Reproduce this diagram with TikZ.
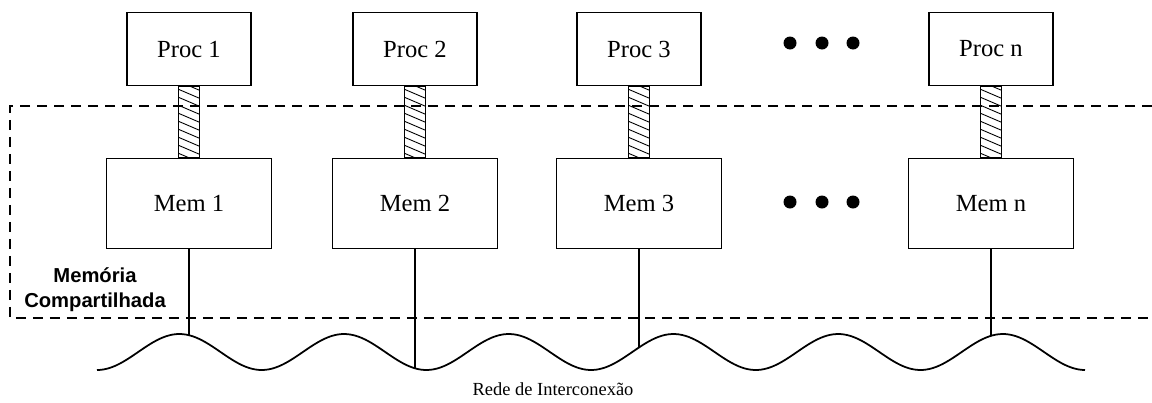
\documentclass[tikz,border=0pt]{standalone}
\usepackage{fontspec}
\setmainfont{Liberation Serif}
\setsansfont{Liberation Sans}
\usetikzlibrary{positioning,calc}

\begin{document}
\begin{tikzpicture}[
		procbox/.style={draw, line width=0.9pt, minimum width=2.48cm, minimum height=1.46cm},
		membox/.style={draw, line width=0.9pt, minimum width=3.3cm, minimum height=1.8cm},
		frame/.style={dash pattern=on 0.2cm off 0.14cm, line width=0.6pt},
		net/.style={line width=1pt},
		link/.style={line width=0.6pt},
		every node/.style={font=\fontsize{14}{16}\selectfont},
		declare function={wave(\t)=1.0-0.36*cos(360*(\t-1.94)/3.294);}
	]
	\useasboundingbox (0,0) rectangle (23.04,8.04);

	% processadores e memorias locais
	\foreach \i/\x in {1/3.78, 2/8.30, 3/12.78, n/19.82} {
		\node[procbox] (p\i) at (\x,7.06) {Proc \i};
		\node[membox, below=1.43cm of p\i] (m\i) {Mem \i};
		\coordinate (w\i) at (\x,{wave(\x)});
	}

	% ligacao hachurada proc -- mem
	\foreach \i in {1,2,3,n} {
		\begin{scope}
			\clip ($(p\i.south)+(-0.21,0)$) rectangle ($(m\i.north)+(0.21,0)$);
			\foreach \k in {0,...,11}
				\draw[line width=0.5pt] ($(p\i.south)+(-0.21,0.26-\k*0.16)$) -- ++(0.42,-0.18);
		\end{scope}
		\draw[line width=0.7pt] ($(p\i.south)+(-0.21,0)$) rectangle ($(m\i.north)+(0.21,0)$);
	}

	% reticencias
	\foreach \x in {15.8,16.44,17.06} {
		\fill (\x,7.18) circle (0.13);
		\fill (\x,4.0) circle (0.13);
	}

	% memoria compartilhada
	\draw[frame] (23.04,5.92) -- (0.2,5.92) -- (0.2,1.68) -- (23.04,1.68);
	\node[font=\sffamily\bfseries\fontsize{11.5}{14}\selectfont, align=center] (shm) at (1.9,2.25) {Memória\\Compartilhada};

	% rede
	\draw[net] plot[domain=1.94:21.70, samples=300, smooth] (\x,{wave(\x)});
	\foreach \i in {1,2,3,n}
		\draw[link] (m\i.south) -- (w\i);
	\node[font=\fontsize{10.5}{12}\selectfont] (rede) at (11.06,0.26) {Rede de Interconexão};

\end{tikzpicture}
\end{document}
